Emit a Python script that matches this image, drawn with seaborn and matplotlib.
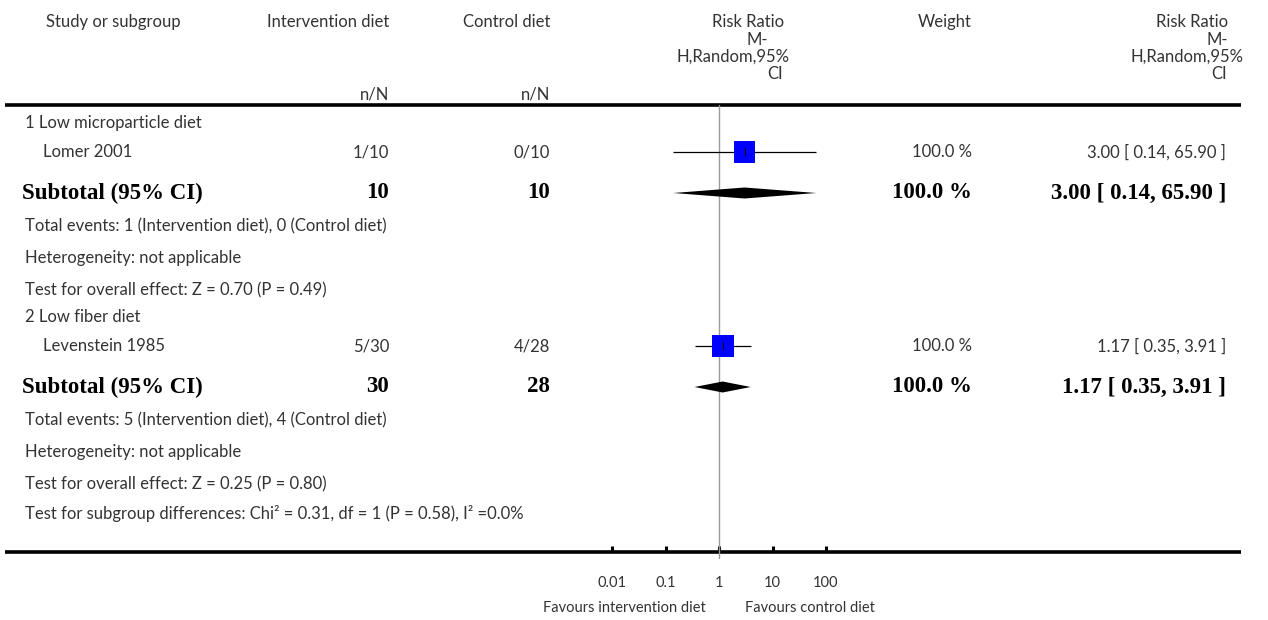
import matplotlib
matplotlib.use("Agg")
import matplotlib.pyplot as plt
import numpy as np
import pandas as pd
import seaborn as sns

# ---- data -------------------------------------------------------------
subgroups = ["1 Low microparticle diet", "2 Low fiber diet"]
studies = ["Lomer 2001", "Levenstein 1985"]
int_events = [1, 5]
int_total = [10, 30]
ctl_events = [0, 4]
ctl_total = [10, 28]
rr = [3.00, 1.17]
ci_low = [0.14, 0.35]
ci_high = [65.90, 3.91]
weights = [100.0, 100.0]
sub_rr = [3.00, 1.17]
sub_low = [0.14, 0.35]
sub_high = [65.90, 3.91]
sub_weight = [100.0, 100.0]
z_values = [0.70, 0.25]
p_values = [0.49, 0.80]
diff_chi2, diff_df, diff_p, diff_i2 = 0.31, 1, 0.58, 0.0
tick_values = [0.01, 0.1, 1, 10, 100]
tick_labels = ["0.01", "0.1", "1", "10", "100"]
int_name, ctl_name = "Intervention diet", "Control diet"

# ---- style ------------------------------------------------------------
sns.set_theme(style="white")
plt.rcParams["font.family"] = ["Lato", "DejaVu Sans"]
SANS = dict(family=["Lato", "DejaVu Sans"], weight="normal", color="#333333")
SERIF_B = dict(family=["Liberation Serif", "DejaVu Serif"], weight="bold", color="black")
FS = 12.0
FS_B = 16.5
FS_SMALL = 10.5

W, H = 1268, 620
fig = plt.figure(figsize=(W / 100, H / 100), dpi=100)

# layout canvas in pixel units
canvas = fig.add_axes([0, 0, 1, 1])
canvas.set_xlim(0, W)
canvas.set_ylim(H, 0)
canvas.axis("off")

TOP_RULE, BOTTOM_RULE = 105, 552
X_L, X_INT, X_CTL, X_W, X_RR = 25, 389, 550, 972, 1226


def txt(x, y, s, ha="left", bold=False, size=None):
    style = SERIF_B if bold else SANS
    canvas.text(x, y, s, ha=ha, va="center",
                fontsize=size or (FS_B if bold else FS), **style)


# header
txt(46, 22, "Study or subgroup")
txt(X_INT, 22, int_name, ha="right")
txt(X_CTL, 22, ctl_name, ha="right")
txt(X_INT, 95, "n/N", ha="right")
txt(X_CTL, 95, "n/N", ha="right")
txt(X_W, 22, "Weight", ha="right")
# wrapped "Risk Ratio / M-H,Random,95% CI" headers
for xr, offs in ((784, (0, -16, 6, -1)), (1228, (0, 0, 15, -1))):
    txt(xr + offs[0], 22, "Risk Ratio", ha="right")
    txt(xr + offs[1], 40, "M-", ha="right")
    txt(xr + offs[2], 57, "H,Random,95%", ha="right")
    txt(xr + offs[3], 74, "CI", ha="right")

canvas.plot([5, 1241], [TOP_RULE, TOP_RULE], color="black", lw=2.6,
            solid_capstyle="butt")
canvas.plot([5, 1241], [BOTTOM_RULE, BOTTOM_RULE], color="black", lw=2.6,
            solid_capstyle="butt")

# row positions of each subgroup block
block_top = [123, 317]
study_rows, sub_rows = [], []
for i in range(2):
    y0 = block_top[i]
    y_study, y_sub = y0 + 29, y0 + 70
    study_rows.append(y_study)
    sub_rows.append(y_sub)
    txt(X_L, y0, subgroups[i])
    txt(43, y_study, studies[i])
    txt(X_INT, y_study, f"{int_events[i]}/{int_total[i]}", ha="right")
    txt(X_CTL, y_study, f"{ctl_events[i]}/{ctl_total[i]}", ha="right")
    txt(X_W, y_study, f"{weights[i]:.1f} %", ha="right")
    txt(X_RR, y_study, f"{rr[i]:.2f} [ {ci_low[i]:.2f}, {ci_high[i]:.2f} ]", ha="right")

    txt(22, y_sub, "Subtotal (95% CI)", bold=True)
    txt(X_INT, y_sub, f"{int_total[i]}", ha="right", bold=True)
    txt(X_CTL, y_sub, f"{ctl_total[i]}", ha="right", bold=True)
    txt(X_W, y_sub, f"{sub_weight[i]:.1f} %", ha="right", bold=True)
    txt(X_RR, y_sub, f"{sub_rr[i]:.2f} [ {sub_low[i]:.2f}, {sub_high[i]:.2f} ]",
        ha="right", bold=True)

    txt(X_L, y_sub + 33,
        f"Total events: {int_events[i]} ({int_name}), {ctl_events[i]} ({ctl_name})")
    txt(X_L, y_sub + 65, "Heterogeneity: not applicable")
    txt(X_L, y_sub + 97,
        f"Test for overall effect: Z = {z_values[i]:.2f} (P = {p_values[i]:.2f})")

txt(X_L, 514,
    f"Test for subgroup differences: Chi\u00b2 = {diff_chi2:.2f}, df = {diff_df} "
    f"(P = {diff_p:.2f}), I\u00b2 ={diff_i2:.1f}%")

# ---- forest panel (log scale) ------------------------------------------
x0, x1 = 612, 826
fx = fig.add_axes([x0 / W, (H - BOTTOM_RULE) / H, (x1 - x0) / W,
                   (BOTTOM_RULE - TOP_RULE) / H])
fx.patch.set_alpha(0)
fx.set_xscale("log")
fx.set_xlim(tick_values[0], tick_values[-1])
fx.set_ylim(BOTTOM_RULE, TOP_RULE)
for s in fx.spines.values():
    s.set_visible(False)

# line of no effect
fx.plot([1, 1], [TOP_RULE, BOTTOM_RULE + 6], color="#9a9a9a", lw=1.0,
        clip_on=False, zorder=1)

df = pd.DataFrame({"rr": rr, "low": ci_low, "high": ci_high, "row": study_rows})
fx.hlines(df["row"], df["low"], df["high"], color="black", lw=0.9, zorder=2,
          clip_on=False)
sns.scatterplot(data=df, x="rr", y="row", marker="s", s=245, color="#0000ff",
                edgecolor="none", linewidth=0, ax=fx, zorder=3, legend=False,
                clip_on=False)
fx.scatter(df["rr"], df["row"], marker="|", s=30, color="black", lw=0.8,
           zorder=4, clip_on=False)

for i in range(2):
    yc = sub_rows[i]
    fx.fill([sub_low[i], sub_rr[i], sub_high[i], sub_rr[i]],
            [yc, yc - 5.5, yc, yc + 5.5], color="black", lw=0, zorder=3,
            clip_on=False)

fx.set_xticks(tick_values)
fx.set_xticklabels(tick_labels)
fx.minorticks_off()
fx.set_yticks([])
fx.tick_params(axis="x", direction="in", length=4.5, width=2.2, color="black",
               bottom=True, pad=17, labelsize=FS_SMALL, labelcolor="#333333")
fx.set_xlabel("")
fx.set_ylabel("")

txt(706, 608, f"Favours {int_name.lower()}", ha="right", size=FS_SMALL)
txt(745, 608, f"Favours {ctl_name.lower()}", size=FS_SMALL)

fig.savefig("out.png", dpi=100)
